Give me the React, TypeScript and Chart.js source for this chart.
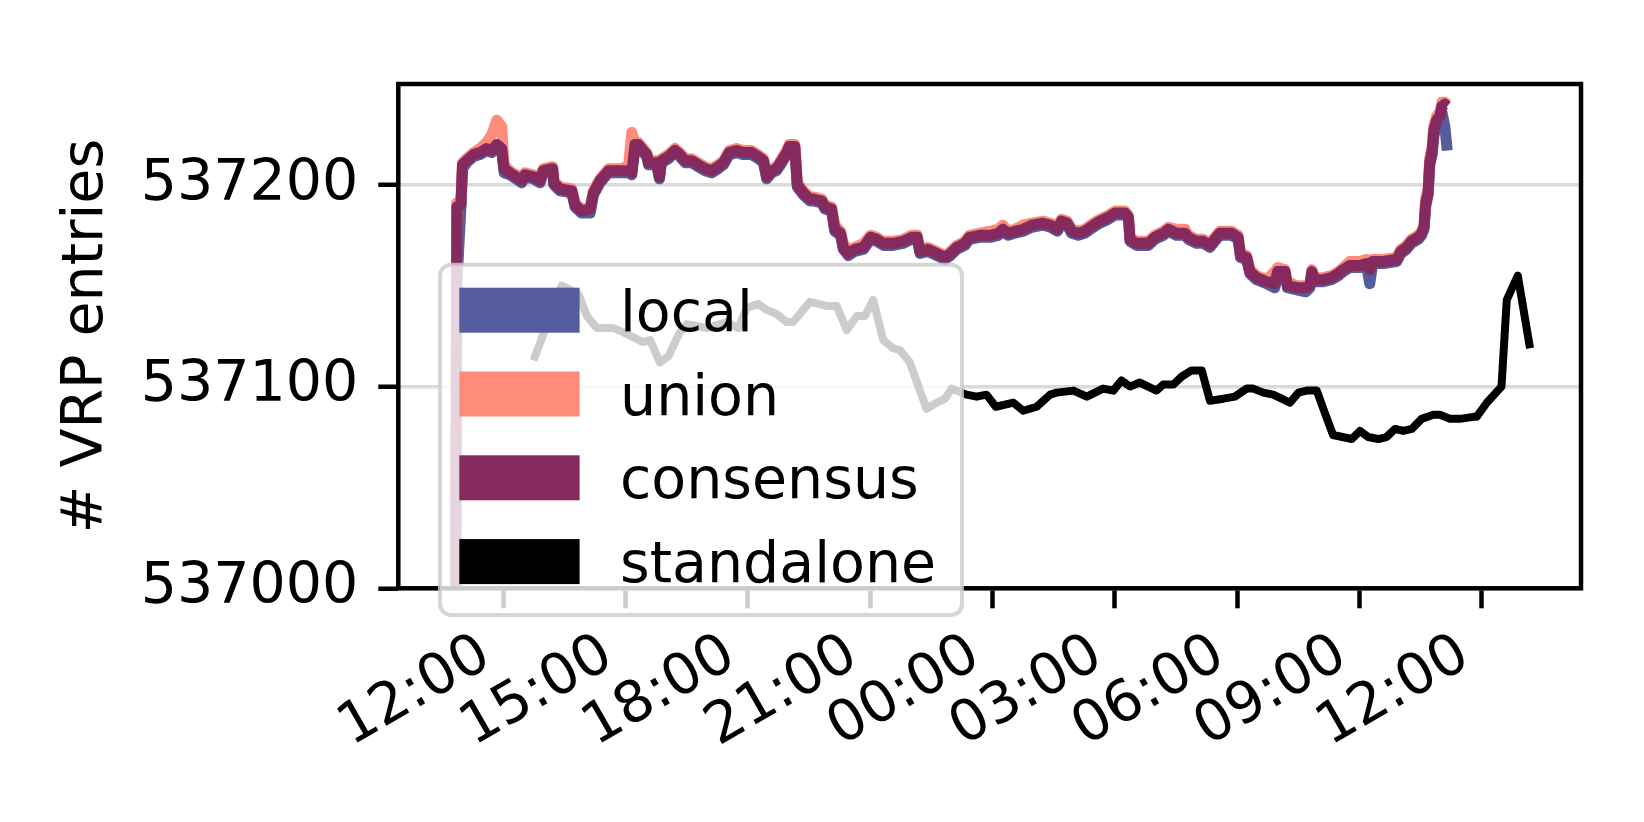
import React, { useEffect, useRef } from 'react';
import { Chart, registerables } from 'chart.js';

Chart.register(...registerables);

// ---- data (x = hours since midnight of the first day) ----
const trioHours = [
  10.83, 10.86, 10.96, 11.00, 11.10, 11.27, 11.43, 11.59, 11.72, 11.84,
  11.96, 12.02, 12.16, 12.31, 12.45, 12.53, 12.74, 12.90, 12.98, 13.21,
  13.24, 13.39, 13.68, 13.76, 13.92, 14.13, 14.21, 14.37, 14.58, 14.86,
  15.07, 15.15, 15.23, 15.31, 15.43, 15.52, 15.56, 15.76, 15.83, 15.88,
  16.05, 16.21, 16.33, 16.46, 16.62, 16.78, 16.95, 17.11, 17.27, 17.40,
  17.54, 17.72, 17.89, 18.09, 18.25, 18.38, 18.46, 18.58, 18.70, 18.80,
  18.95, 19.01, 19.15, 19.21, 19.36, 19.52,
  19.60, 19.81, 19.89, 20.05, 20.13, 20.27, 20.34, 20.46, 20.62, 20.83,
  21.01, 21.16, 21.32, 21.56, 21.81, 22.01, 22.15, 22.22, 22.42, 22.63,
  22.83, 22.97, 23.12, 23.32, 23.43, 23.69, 23.94, 24.14, 24.25, 24.38,
  24.55, 24.75, 24.96, 25.24, 25.42, 25.59, 25.69, 25.83, 25.94, 26.10,
  26.26, 26.47, 26.63, 26.84, 27.00, 27.25, 27.33, 27.37, 27.53, 27.82,
  27.98, 28.19, 28.31, 28.51, 28.72, 28.80, 29.00,
  29.17, 29.33, 29.45, 29.57, 29.86, 30.02, 30.08, 30.23, 30.31, 30.47,
  30.72, 30.92, 30.99, 31.17, 31.23, 31.46, 31.68, 31.78, 31.83, 31.90,
  32.11, 32.31, 32.48, 32.60, 32.76, 33.01, 33.17, 33.25, 33.32, 33.58,
  33.91, 34.01, 34.15, 34.27, 34.44, 34.52, 34.58, 34.62, 34.68, 34.72,
  34.78, 34.82, 34.89, 34.97, 35.02, 35.09, 35.15,
];

const localValues = [
  536990, 537150, 537189, 537208, 537211, 537214, 537215, 537217, 537216, 537219,
  537217, 537206, 537205, 537203, 537201, 537204, 537203, 537201, 537206, 537207,
  537200, 537197, 537196, 537189, 537186, 537186, 537195, 537201, 537206, 537206,
  537206, 537205, 537219, 537219, 537216, 537214, 537210, 537210, 537203, 537211,
  537213, 537216, 537214, 537211, 537211, 537209, 537207, 537206, 537208, 537210,
  537215, 537216, 537215, 537215, 537213, 537211, 537203, 537206, 537207, 537210,
  537215, 537218, 537218, 537199, 537195, 537192,
  537192, 537191, 537188, 537187, 537177, 537175, 537168, 537165, 537167, 537168,
  537173, 537172, 537170, 537170, 537171, 537173, 537173, 537166, 537167, 537165,
  537163, 537165, 537168, 537170, 537173, 537174, 537174, 537175, 537177, 537175,
  537176, 537177, 537179, 537180, 537179, 537177, 537181, 537180, 537176, 537175,
  537176, 537179, 537181, 537183, 537185, 537185, 537183, 537172, 537170, 537170,
  537173, 537175, 537177, 537175, 537175, 537173, 537171,
  537171, 537169, 537172, 537175, 537175, 537173, 537164, 537163, 537156, 537153,
  537151, 537149, 537155, 537156, 537149, 537148, 537147, 537149, 537156, 537152,
  537152, 537153, 537155, 537157, 537159, 537159, 537160, 537151, 537161, 537161,
  537162, 537166, 537168, 537171, 537173, 537175, 537178, 537189, 537195, 537210,
  537215, 537224, 537230, 537233, 537236, 537229, 537217,
];

const unionValues = [
  536990, 537191, 537192, 537211, 537213, 537216, 537218, 537221, 537225, 537232,
  537229, 537210, 537207, 537205, 537204, 537206, 537205, 537204, 537208, 537209,
  537202, 537199, 537198, 537191, 537188, 537189, 537197, 537203, 537208, 537208,
  537209, 537226, 537221, 537221, 537218, 537216, 537212, 537212, 537205, 537213,
  537215, 537218, 537216, 537213, 537213, 537211, 537209, 537208, 537210, 537212,
  537217, 537218, 537217, 537217, 537215, 537213, 537205, 537208, 537209, 537212,
  537217, 537220, 537220, 537201, 537197, 537194,
  537194, 537193, 537190, 537189, 537180, 537177, 537171, 537168, 537169, 537171,
  537175, 537174, 537172, 537172, 537173, 537175, 537175, 537168, 537169, 537167,
  537165, 537167, 537170, 537172, 537175, 537176, 537177, 537178, 537180, 537177,
  537178, 537180, 537181, 537182, 537181, 537180, 537183, 537182, 537178, 537177,
  537178, 537181, 537183, 537185, 537187, 537187, 537185, 537174, 537172, 537172,
  537175, 537177, 537179, 537178, 537178, 537175, 537173,
  537173, 537171, 537174, 537177, 537177, 537175, 537166, 537165, 537158, 537155,
  537153, 537157, 537159, 537158, 537152, 537150, 537150, 537151, 537158, 537154,
  537154, 537155, 537157, 537159, 537162, 537162, 537163, 537162, 537163, 537163,
  537164, 537168, 537170, 537173, 537175, 537177, 537180, 537193, 537198, 537213,
  537219, 537229, 537234, 537236, 537241, 537241, 537240,
];

const consensusValues = [
  536990, 537189, 537190, 537210, 537212, 537215, 537216, 537218, 537217, 537220,
  537218, 537208, 537206, 537204, 537202, 537205, 537204, 537202, 537207, 537208,
  537201, 537198, 537197, 537190, 537187, 537188, 537196, 537202, 537207, 537207,
  537207, 537206, 537220, 537220, 537217, 537215, 537211, 537211, 537204, 537212,
  537214, 537217, 537215, 537212, 537212, 537210, 537208, 537207, 537209, 537211,
  537216, 537217, 537216, 537216, 537214, 537212, 537204, 537207, 537208, 537211,
  537216, 537219, 537219, 537200, 537196, 537193,
  537193, 537192, 537189, 537188, 537178, 537176, 537169, 537166, 537168, 537169,
  537174, 537173, 537171, 537171, 537172, 537174, 537174, 537167, 537168, 537166,
  537164, 537166, 537169, 537171, 537174, 537175, 537175, 537176, 537178, 537176,
  537177, 537178, 537180, 537181, 537180, 537178, 537182, 537181, 537177, 537176,
  537177, 537180, 537182, 537184, 537186, 537186, 537184, 537173, 537171, 537171,
  537174, 537176, 537178, 537176, 537176, 537174, 537172,
  537172, 537170, 537173, 537176, 537176, 537174, 537165, 537164, 537157, 537154,
  537152, 537151, 537157, 537157, 537150, 537149, 537149, 537150, 537157, 537153,
  537153, 537154, 537156, 537158, 537160, 537160, 537161, 537158, 537162, 537162,
  537163, 537167, 537169, 537172, 537174, 537176, 537179, 537191, 537196, 537211,
  537217, 537227, 537232, 537234, 537239, 537240, 537239,
];

const standaloneHours = [
  12.74, 13.43, 13.84, 14.05, 14.29, 14.70, 14.94, 15.43, 15.60, 15.84,
  16.05, 16.33, 16.50, 16.99, 17.48, 17.76, 17.97, 18.25, 18.46, 18.70,
  18.95, 19.11, 19.52, 19.93, 20.18, 20.42, 20.67, 20.87, 21.07, 21.32,
  21.56, 21.73, 21.97, 22.38, 22.63, 22.83, 23.00, 23.24, 23.36, 23.61,
  23.85, 24.08, 24.51, 24.75, 25.08, 25.41, 25.57, 25.98, 26.31, 26.71,
  26.96, 27.16, 27.37, 27.61, 28.02, 28.18, 28.43, 28.64, 28.88, 29.13,
  29.33, 29.66, 29.94, 30.23, 30.39, 30.64, 30.88, 31.09, 31.29, 31.50,
  31.70, 31.95, 32.11, 32.35, 32.81, 33.01, 33.21, 33.46, 33.66, 33.87,
  34.07, 34.28, 34.52, 34.81, 34.97, 35.22, 35.46, 35.79, 35.87, 36.12,
  36.48, 36.61, 36.88, 37.18,
];

const standaloneValues = [
  537113, 537150, 537146, 537135, 537129, 537129, 537127, 537122, 537123, 537112,
  537115, 537127, 537131, 537129, 537132, 537129, 537139, 537141, 537138, 537136,
  537132, 537132, 537142, 537140, 537140, 537128, 537135, 537135, 537143, 537123,
  537119, 537118, 537112, 537089, 537092, 537094, 537099, 537097, 537096, 537095,
  537096, 537090, 537092, 537088, 537090, 537096, 537097, 537098, 537095, 537099,
  537098, 537103, 537100, 537102, 537098, 537101, 537101, 537105, 537108, 537108,
  537093, 537094, 537095, 537099, 537099, 537097, 537096, 537094, 537092, 537097,
  537098, 537098, 537089, 537076, 537074, 537078, 537075, 537074, 537075, 537079,
  537078, 537079, 537084, 537086, 537086, 537084, 537084, 537085, 537085, 537092,
  537100, 537143, 537155, 537119,
];

const xTickHours = [12, 15, 18, 21, 24, 27, 30, 33, 36];
const yTickValues = [537000, 537100, 537200];

const seriesLabels = ['local', 'union', 'consensus', 'standalone'];
const seriesColors = ['#545c9c', '#ff8c7a', '#842a5f', '#000000'];

const FONT = '"DejaVu Sans", sans-serif';

const fmtHour = (v: number) => {
  const h = ((Math.round(v) % 24) + 24) % 24;
  return String(h).padStart(2, '0') + ':00';
};

const spinePlugin = {
  id: 'spines',
  afterDatasetsDraw(chart: any) {
    const { ctx, chartArea } = chart;
    ctx.save();
    ctx.strokeStyle = '#000';
    ctx.lineWidth = 4.5;
    ctx.lineJoin = 'miter';
    ctx.strokeRect(chartArea.left, chartArea.top, chartArea.right - chartArea.left, chartArea.bottom - chartArea.top);
    ctx.restore();
  },
};

const boxLegendPlugin = {
  id: 'boxLegend',
  afterDraw(chart: any) {
    const { ctx } = chart;
    ctx.save();
    const bx = 440, by = 264.7, bw = 522, bh = 350.3, r = 11;
    ctx.beginPath();
    ctx.roundRect(bx, by, bw, bh, r);
    ctx.fillStyle = 'rgba(255,255,255,0.8)';
    ctx.fill();
    ctx.lineWidth = 4;
    ctx.strokeStyle = 'rgba(204,204,204,0.8)';
    ctx.stroke();
    ctx.font = `57px ${FONT}`;
    ctx.textBaseline = 'alphabetic';
    ctx.textAlign = 'left';
    chart.data.datasets.forEach((ds: any, i: number) => {
      const cy = 310.2 + i * 83.8;
      ctx.fillStyle = ds.borderColor;
      ctx.fillRect(459.3, cy - 22.5, 120.3, 45);
      ctx.fillStyle = '#000';
      ctx.fillText(ds.label, 620, cy + 20.5);
    });
    ctx.restore();
  },
};

export default function App() {
  const ref = useRef<HTMLCanvasElement>(null);

  useEffect(() => {
    document.body.style.margin = '0';
    const canvas = ref.current;
    if (!canvas) return;
    const pts = (xs: number[], ys: number[]) => xs.map((x, i) => ({ x, y: ys[i] }));
    const valueSets = [localValues, unionValues, consensusValues];

    const datasets: any[] = valueSets.map((vals, i) => ({
      label: seriesLabels[i],
      data: pts(trioHours, vals),
      borderColor: seriesColors[i],
      backgroundColor: seriesColors[i],
      borderWidth: 11,
      order: 4 - i,
      clip: 0,
    }));
    datasets.push({
      label: seriesLabels[3],
      data: pts(standaloneHours, standaloneValues),
      borderColor: seriesColors[3],
      backgroundColor: seriesColors[3],
      borderWidth: 8,
      order: 1,
      clip: 0,
    });

    Chart.defaults.font.family = FONT;
    Chart.defaults.color = '#000';

    const chart = new Chart(canvas, {
      type: 'line',
      data: { datasets },
      options: {
        responsive: false,
        animation: false,
        devicePixelRatio: 1,
        layout: { padding: { left: 0, right: 63, top: 84, bottom: 0 } },
        plugins: { legend: { display: false }, tooltip: { enabled: false } },
        elements: {
          point: { radius: 0, hoverRadius: 0 },
          line: { tension: 0, borderJoinStyle: 'round', borderCapStyle: 'butt', fill: false },
        },
        scales: {
          x: {
            type: 'linear',
            min: 9.425,
            max: 38.43,
            afterBuildTicks: (s: any) => {
              s.ticks = xTickHours.map((v) => ({ value: v }));
            },
            afterFit: (s: any) => {
              s.height = 233.7;
            },
            ticks: {
              autoSkip: false,
              minRotation: 30,
              maxRotation: 30,
              padding: 13,
              labelOffset: -17,
              font: { size: 57 },
              color: '#000',
              callback: (v: any) => fmtHour(Number(v)),
            },
            grid: {
              drawOnChartArea: false,
              drawTicks: true,
              tickLength: 20,
              tickColor: '#000',
              tickWidth: 4.5,
            },
            border: { display: false },
          },
          y: {
            type: 'linear',
            min: 537000,
            max: 537250,
            afterBuildTicks: (s: any) => {
              s.ticks = yTickValues.map((v) => ({ value: v }));
            },
            afterFit: (s: any) => {
              s.width = 398.3;
            },
            ticks: {
              padding: 20,
              font: { size: 57 },
              color: '#000',
              callback: (v: any) => String(v),
            },
            grid: {
              color: '#dadada',
              lineWidth: 3.5,
              tickColor: '#000',
              tickWidth: 4.5,
              tickLength: 20,
            },
            border: { display: false },
            title: {
              display: true,
              text: '# VRP entries',
              font: { size: 57 },
              color: '#000',
              padding: { top: 53, bottom: 0 },
            },
          },
        },
      } as any,
      plugins: [spinePlugin, boxLegendPlugin],
    });
    return () => chart.destroy();
  }, []);

  return (
    <div style={{ width: 1644, height: 822, overflow: 'hidden', background: '#fff' }}>
      <canvas ref={ref} width={1644} height={822} style={{ display: 'block', width: 1644, height: 822 }} />
    </div>
  );
}
